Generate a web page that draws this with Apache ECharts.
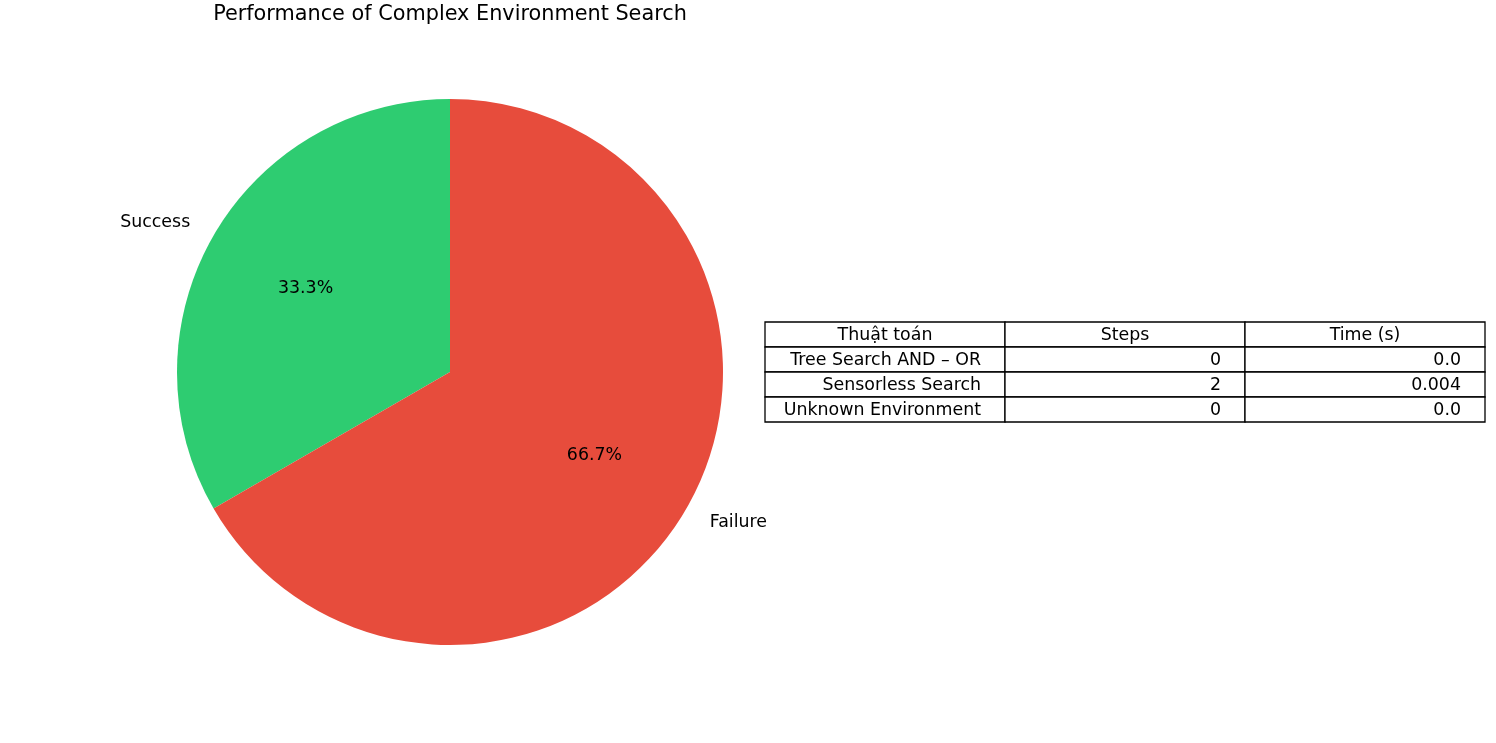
<!DOCTYPE html>
<html>
<head>
<meta charset="utf-8">
<script src="https://cdn.jsdelivr.net/npm/echarts@6/dist/echarts.min.js"></script>
<style>
  html, body { margin: 0; padding: 0; background: #fff; }
  #chart { width: 1496px; height: 743px; }
</style>
</head>
<body>
<div id="chart"></div>
<script>
// pie data
var pieNames = ['Success', 'Failure'];
var pieValues = [1, 2];
var pieColors = ['#2ecc71', '#e74c3c'];

// table data
var tableHeader = ['Thuật toán', 'Steps', 'Time (s)'];
var algoNames = ['Tree Search AND \u2013 OR', 'Sensorless Search', 'Unknown Environment'];
var algoSteps = ['0', '2', '0'];
var algoTimes = ['0.0', '0.004', '0.0'];

var FONT = 'DejaVu Sans';
var cx = 450, cy = 372, R = 273;

var pieData = pieNames.map(function (n, i) {
  return { name: n, value: pieValues[i], itemStyle: { color: pieColors[i] } };
});

// table drawn with graphic elements
var tblX = 765, tblY = 322, colW = 240, rowH = 25, pad = 24;
var rows = [tableHeader];
for (var i = 0; i < algoNames.length; i++) {
  rows.push([algoNames[i], algoSteps[i], algoTimes[i]]);
}
var tableEls = [];
rows.forEach(function (row, r) {
  row.forEach(function (txt, c) {
    var x = tblX + c * colW, y = tblY + r * rowH;
    tableEls.push({
      type: 'rect',
      shape: { x: x, y: y, width: colW, height: rowH },
      style: { fill: '#fff', stroke: '#000', lineWidth: 1.3 }
    });
    var header = r === 0;
    tableEls.push({
      type: 'text',
      x: header ? x + colW / 2 : x + colW - pad,
      y: y + rowH / 2 + 1,
      style: {
        text: txt,
        fill: '#000',
        font: '17.4px "' + FONT + '"',
        textAlign: header ? 'center' : 'right',
        textVerticalAlign: 'middle'
      },
      z: 10
    });
  });
});

var chart = echarts.init(document.getElementById('chart'));
chart.setOption({
  animation: false,
  backgroundColor: '#fff',
  title: {
    text: 'Performance of Complex Environment Search',
    left: cx - 5,
    top: -1,
    textAlign: 'center',
    textStyle: { fontFamily: FONT, fontSize: 20.8, fontWeight: 'normal', color: '#000' }
  },
  series: [
    {
      type: 'pie',
      center: [cx, cy],
      radius: [0, R],
      startAngle: 90,
      clockwise: false,
      avoidLabelOverlap: false,
      label: {
        show: true,
        position: 'outside',
        formatter: '{b}',
        fontFamily: FONT,
        fontSize: 17.4,
        color: '#000',
        distanceToLabelLine: 0
      },
      labelLine: { show: false, length: 27, length2: 0 },
      emphasis: { disabled: true },
      data: pieData
    },
    {
      type: 'pie',
      center: [cx, cy],
      radius: [0, R * 1.2],
      startAngle: 90,
      clockwise: false,
      silent: true,
      z: 5,
      itemStyle: { color: 'transparent' },
      label: {
        show: true,
        position: 'inside',
        formatter: function (p) { return p.percent.toFixed(1) + '%'; },
        fontFamily: FONT,
        fontSize: 17.4,
        color: '#000'
      },
      labelLine: { show: false },
      emphasis: { disabled: true },
      data: pieData.map(function (d) { return { name: d.name, value: d.value, itemStyle: { color: 'transparent' } }; })
    }
  ],
  graphic: { elements: tableEls }
});
</script>
</body>
</html>
